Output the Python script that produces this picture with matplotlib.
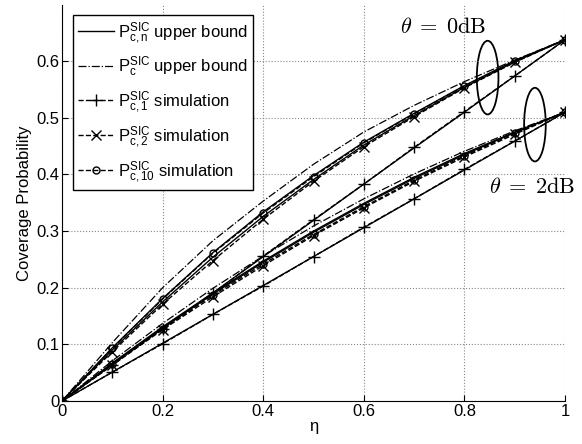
import numpy as np
import matplotlib
matplotlib.use("Agg")
import matplotlib.pyplot as plt
from matplotlib.patches import Ellipse

plt.rcParams["font.family"] = ["Liberation Sans", "DejaVu Sans"]
plt.rcParams["mathtext.fontset"] = "cm"

eta = [0, 0.1, 0.2, 0.3, 0.4, 0.5, 0.6, 0.7, 0.8, 0.9, 1.0]

# theta = 0 dB
ub_0 = [0, 0.103, 0.200, 0.283, 0.353, 0.418, 0.475, 0.522, 0.564, 0.602, 0.638]
ubn1_0 = [0, 0.064, 0.128, 0.191, 0.255, 0.319, 0.383, 0.447, 0.510, 0.574, 0.638]
ubn2_0 = [0, 0.090, 0.175, 0.254, 0.326, 0.391, 0.452, 0.504, 0.554, 0.599, 0.638]
ubn10_0 = [0, 0.094, 0.181, 0.262, 0.334, 0.398, 0.457, 0.508, 0.557, 0.601, 0.638]
sim1_0 = [0, 0.063, 0.127, 0.190, 0.256, 0.320, 0.383, 0.448, 0.511, 0.574, 0.638]
sim2_0 = [0, 0.087, 0.171, 0.248, 0.321, 0.388, 0.449, 0.502, 0.553, 0.598, 0.638]
sim10_0 = [0, 0.093, 0.180, 0.261, 0.332, 0.396, 0.456, 0.507, 0.556, 0.600, 0.638]

# theta = 2 dB
ub_2 = [0, 0.071, 0.137, 0.199, 0.256, 0.309, 0.357, 0.401, 0.441, 0.477, 0.510]
ubn1_2 = [0, 0.051, 0.102, 0.153, 0.204, 0.255, 0.306, 0.357, 0.408, 0.459, 0.510]
ubn2_2 = [0, 0.066, 0.129, 0.189, 0.245, 0.298, 0.347, 0.393, 0.435, 0.474, 0.510]
ubn10_2 = [0, 0.067, 0.131, 0.191, 0.247, 0.300, 0.349, 0.395, 0.437, 0.475, 0.510]
sim1_2 = [0, 0.051, 0.101, 0.153, 0.203, 0.255, 0.307, 0.357, 0.409, 0.459, 0.510]
sim2_2 = [0, 0.064, 0.126, 0.184, 0.239, 0.292, 0.341, 0.388, 0.431, 0.471, 0.510]
sim10_2 = [0, 0.066, 0.128, 0.187, 0.242, 0.294, 0.343, 0.390, 0.433, 0.473, 0.510]

labels = [r"$\mathregular{P_{c,n}^{SIC}}$ upper bound",
          r"$\mathregular{P_{c}^{SIC}}$ upper bound",
          r"$\mathregular{P_{c,1}^{SIC}}$ simulation",
          r"$\mathregular{P_{c,2}^{SIC}}$ simulation",
          r"$\mathregular{P_{c,10}^{SIC}}$ simulation"]

fig = plt.figure(figsize=(5.82, 4.44), dpi=100)
ax = fig.add_axes([0.1065, 0.0968, 0.8645, 0.893])

k = "black"
lw = 1.0
ms_kw = dict(color=k, mfc="none", mew=1.0, lw=lw)

# upper bounds (solid)
ax.plot(eta, ubn1_0, "-", color=k, lw=lw, label=labels[0])
for ys in (ubn2_0, ubn10_0, ubn1_2, ubn2_2, ubn10_2):
    ax.plot(eta, ys, "-", color=k, lw=lw)
# P_c upper bound (dash-dot)
ax.plot(eta, ub_0, "-.", color=k, lw=lw * 0.9, label=labels[1])
ax.plot(eta, ub_2, "-.", color=k, lw=lw * 0.9)
# simulations
ax.plot(eta, sim1_0, "--", marker="+", ms=9, label=labels[2], **ms_kw)
ax.plot(eta, sim1_2, "--", marker="+", ms=9, **ms_kw)
ax.plot(eta, sim2_0, "--", marker="x", ms=7, label=labels[3], **ms_kw)
ax.plot(eta, sim2_2, "--", marker="x", ms=7, **ms_kw)
ax.plot(eta, sim10_0, "--", marker="o", ms=5, label=labels[4], **ms_kw)
ax.plot(eta, sim10_2, "--", marker="o", ms=5, **ms_kw)

# group ellipses and annotations
ax.add_patch(Ellipse((0.846, 0.571), 0.043, 0.13, fill=False, ec=k, lw=1.3))
ax.add_patch(Ellipse((0.940, 0.488), 0.043, 0.13, fill=False, ec=k, lw=1.3))
ax.text(0.757, 0.66, r"$\theta\;=\;0\mathrm{dB}$", fontsize=16, ha="center", va="center")
ax.text(0.935, 0.377, r"$\theta\;=\;2\mathrm{dB}$", fontsize=16, ha="center", va="center")

ax.set_xlim(0, 1)
ax.set_ylim(0, 0.7)
ax.set_xticks([0, 0.2, 0.4, 0.6, 0.8, 1])
ax.set_xticklabels(["0", "0.2", "0.4", "0.6", "0.8", "1"])
ax.set_yticks([0, 0.1, 0.2, 0.3, 0.4, 0.5, 0.6])
ax.set_yticklabels(["0", "0.1", "0.2", "0.3", "0.4", "0.5", "0.6"])
ax.tick_params(direction="in", labelsize=12, length=4, pad=2)
ax.spines["top"].set_visible(False)
ax.spines["right"].set_visible(False)
ax.grid(True, ls=":", color="#888888", lw=0.8)
ax.set_xlabel("η", fontsize=12, labelpad=0)
ax.set_ylabel("Coverage Probability", fontsize=12, labelpad=3)

leg = ax.legend(loc="upper left", bbox_to_anchor=(0.005, 0.995), fontsize=12,
                numpoints=1, handlelength=2.2, handletextpad=0.2,
                labelspacing=0.55, borderpad=0.3, fancybox=False,
                edgecolor=k, framealpha=1)
leg.get_frame().set_linewidth(1.0)

fig.savefig("out.png", dpi=100)
